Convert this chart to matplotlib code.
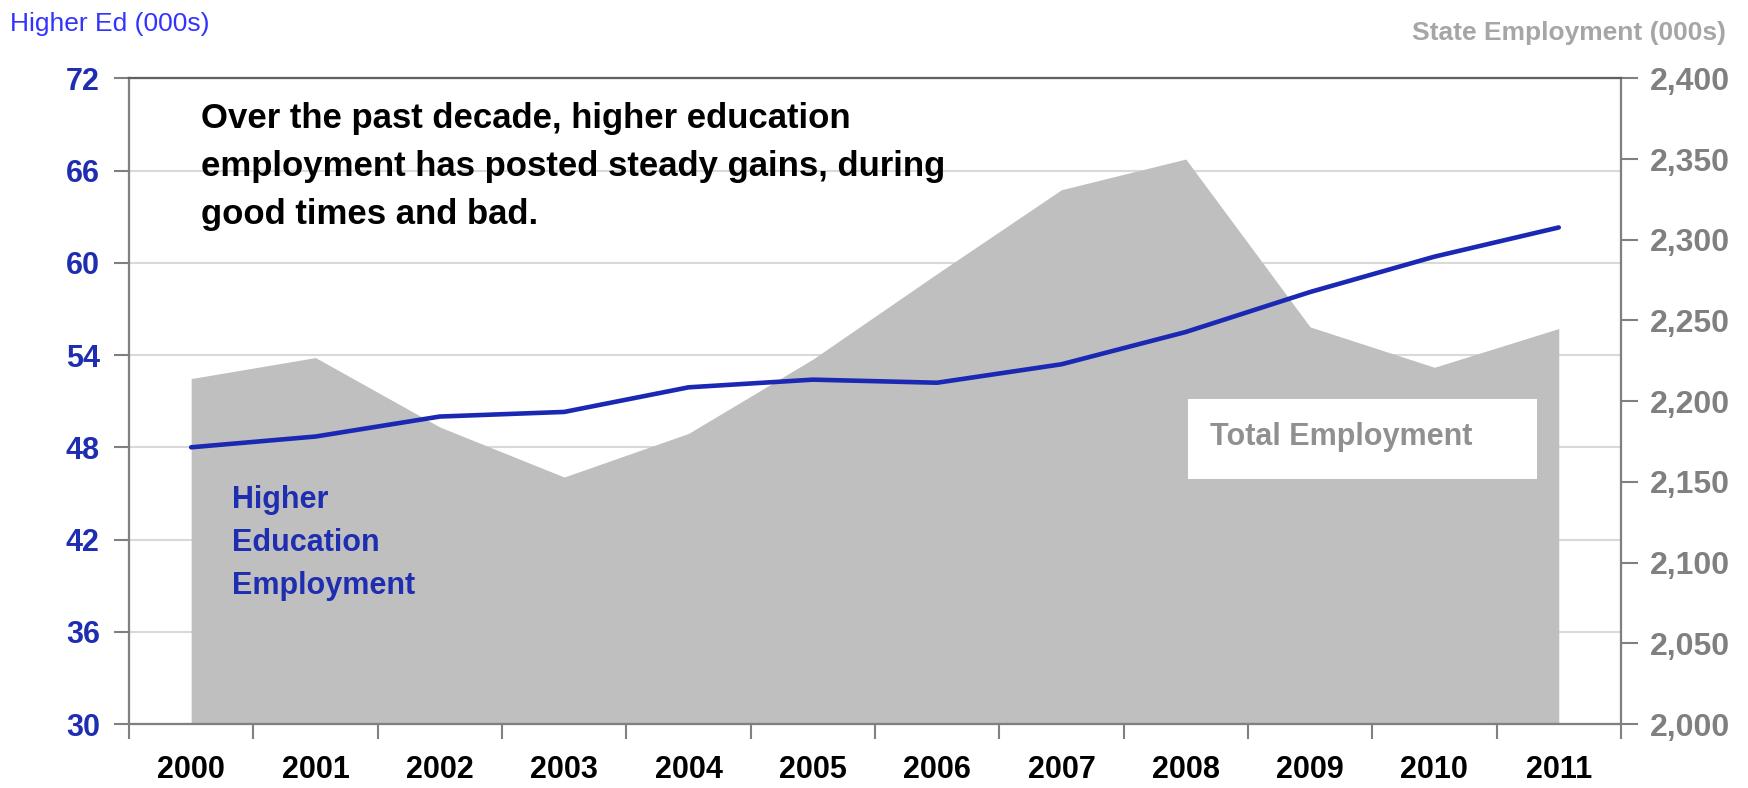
### Higher ed employment vs total state employment
import numpy as np
import matplotlib
matplotlib.use('Agg')
import matplotlib.pyplot as plt
from matplotlib.patches import Rectangle

## Data
years = ['2000', '2001', '2002', '2003', '2004', '2005', '2006', '2007', '2008', '2009', '2010', '2011']
higher_ed = [48.0, 48.7, 50.0, 50.3, 51.9, 52.4, 52.2, 53.4, 55.5, 58.1, 60.4, 62.3]
state_emp = [2214, 2227, 2184, 2153, 2180, 2226, 2279, 2331, 2350, 2246, 2221, 2245]

left_ticks = [30, 36, 42, 48, 54, 60, 66, 72]
right_ticks = [2000, 2050, 2100, 2150, 2200, 2250, 2300, 2350, 2400]

## Fonts
plt.rcParams['font.family'] = ['Liberation Sans', 'DejaVu Sans']

## Colours
blue_line = '#1A28B4'
blue_text = '#1F2DB0'
gray_fill = '#BFBFBF'
gray_text = '#808080'

x = np.arange(len(years))

fig = plt.figure(figsize=(17.48, 7.88), dpi=100)

## Base axes: left scale + gridlines (sits underneath everything)
ax = fig.add_axes([0.0738, 0.0812, 0.8535, 0.8194])
ax.set_ylim(30, 72)
ax.set_yticks(left_ticks)
ax.grid(axis='y', color='#D9D9D9', lw=1.5)
ax.set_axisbelow(True)

## Total employment area on right scale
ax_fill = ax.twinx()
ax_fill.fill_between(x, right_ticks[0], state_emp, color=gray_fill, linewidth=0, zorder=2)
ax_fill.plot([x[0], x[-1]], [right_ticks[0], right_ticks[0]], color='#7030A0', lw=1.5, zorder=3)
ax_fill.set_ylim(2000, 2400)
ax_fill.set_yticks(right_ticks)
ax_fill.set_yticklabels(['{:,}'.format(v) for v in right_ticks])

## Higher ed line on top, same scale as the left axis
ax_line = ax.twinx()
ax_line.plot(x, higher_ed, color=blue_line, lw=3.3, solid_capstyle='round', zorder=5)
ax_line.set_ylim(30, 72)
ax_line.yaxis.set_visible(False)

ax.set_xlim(-0.5, len(years) - 0.5)

## Category ticks between years, labels centred
ax.set_xticks(np.arange(-0.5, len(years)))
ax.set_xticklabels([])
ax.set_xticks(x, minor=True)
ax.set_xticklabels(years, minor=True)
ax.tick_params(axis='x', which='major', length=11, width=1.5, color=gray_text, direction='out')
ax.tick_params(axis='x', which='minor', length=0, pad=22, labelsize=22)
for lab in ax.get_xticklabels(minor=True):
    lab.set_fontweight('bold')

ax.tick_params(axis='y', length=11, width=1.5, color=gray_text, labelsize=22, labelcolor=blue_text, pad=10)
ax_fill.tick_params(axis='y', length=12, width=1.5, color=gray_text, labelsize=23, labelcolor=gray_text, pad=9)
for lab in ax.get_yticklabels():
    lab.set_fontweight('bold')
for lab in ax_fill.get_yticklabels():
    lab.set_fontweight('bold')

## Spines
for a in (ax, ax_fill, ax_line):
    for s in a.spines.values():
        s.set_color(gray_text)
        s.set_linewidth(1.5)
    a.spines['top'].set_color('#606060')

## Axis titles
fig.text(10 / 1748, 1 - 24 / 788, 'Higher Ed (000s)', color='#3333FF', fontsize=19,
         ha='left', va='center')
fig.text(1726 / 1748, 1 - 33 / 788, 'State Employment (000s)', color='#A6A6A6', fontsize=19,
         fontweight='bold', ha='right', va='center')

## Annotation text
ax_line.text(0.048, 0.964, 'Over the past decade, higher education\nemployment has posted steady gains, during\ngood times and bad.',
             transform=ax_line.transAxes, fontsize=25, fontweight='bold', color='black',
             ha='left', va='top', linespacing=1.58, zorder=6)
ax_line.text(0.069, 0.37, 'Higher\nEducation\nEmployment', transform=ax_line.transAxes, fontsize=22,
             fontweight='bold', color=blue_text, ha='left', va='top', linespacing=1.56, zorder=6)

## Total employment label box
box = Rectangle((0.710, 0.380), 0.234, 0.124, transform=ax_line.transAxes, facecolor='white',
                edgecolor='none', zorder=4)
ax_line.add_patch(box)
ax_line.text(0.7245, 0.445, 'Total Employment', transform=ax_line.transAxes, fontsize=22,
             fontweight='bold', color='#909090', ha='left', va='center', zorder=6)

fig.savefig('out.png', dpi=100)
